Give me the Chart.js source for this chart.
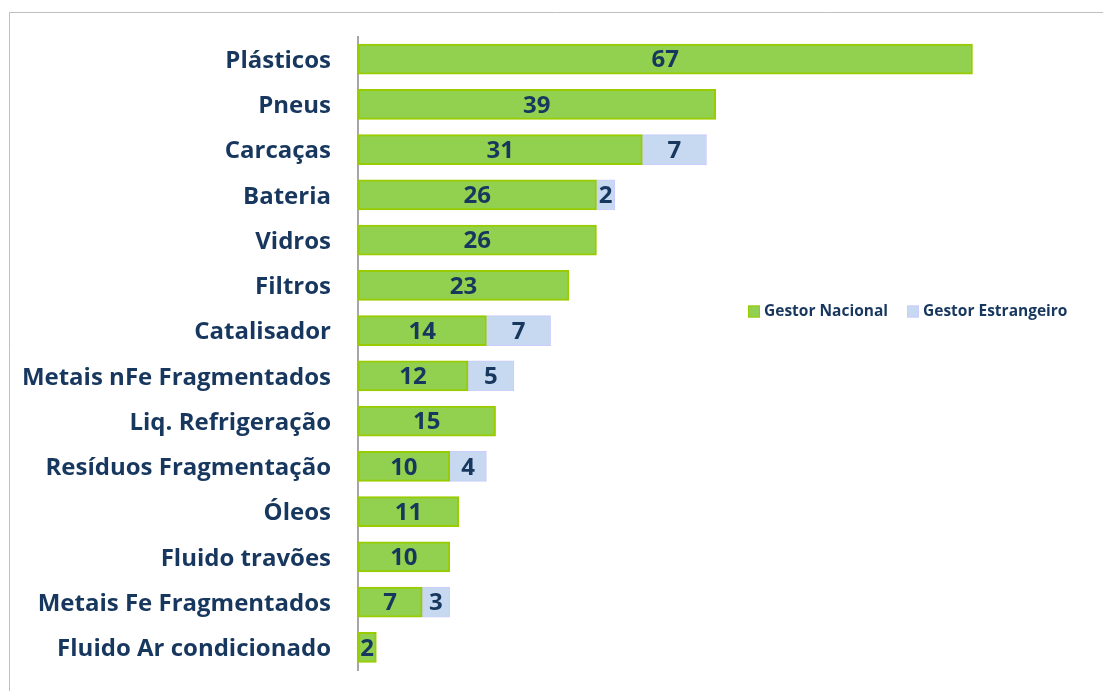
<!DOCTYPE html>
<html>
<head>
<meta charset="utf-8">
<script src="https://cdn.jsdelivr.net/npm/chart.js@4/dist/chart.umd.min.js"></script>
<style>
  html, body { margin: 0; padding: 0; background: #ffffff; }
  #wrap { width: 1103px; height: 691px; position: relative; }
</style>
</head>
<body>
<div id="wrap"><canvas id="c" width="1103" height="691"></canvas></div>
<script>
const categories = ['Plásticos', 'Pneus', 'Carcaças', 'Bateria', 'Vidros', 'Filtros', 'Catalisador',
  'Metais nFe Fragmentados', 'Liq. Refrigeração', 'Resíduos Fragmentação', 'Óleos',
  'Fluido travões', 'Metais Fe Fragmentados', 'Fluido Ar condicionado'];
const gestorNacional = [67, 39, 31, 26, 26, 23, 14, 12, 15, 10, 11, 10, 7, 2];
const gestorEstrangeiro = [null, null, 7, 2, null, null, 7, 5, null, 4, null, null, 3, null];
const seriesNames = ['Gestor Nacional', 'Gestor Estrangeiro'];
const xMin = 0, xMax = 70;

const TEXT = '#17375e';
const FONT = '"Open Sans", "DejaVu Sans", sans-serif';

const framePlugin = {
  id: 'frame',
  beforeDraw(chart) {
    const ctx = chart.ctx;
    ctx.save();
    ctx.fillStyle = '#ffffff';
    ctx.fillRect(0, 0, chart.width, chart.height);
    ctx.strokeStyle = '#bfbfbf';
    ctx.lineWidth = 1;
    ctx.beginPath();
    ctx.moveTo(9.5, chart.height);
    ctx.lineTo(9.5, 12.5);
    ctx.lineTo(chart.width, 12.5);
    ctx.stroke();
    ctx.restore();
  }
};

const valueLabels = {
  id: 'valueLabels',
  afterDatasetsDraw(chart) {
    const ctx = chart.ctx;
    ctx.save();
    ctx.font = 'bold 24px ' + FONT;
    ctx.fillStyle = TEXT;
    ctx.textAlign = 'center';
    ctx.textBaseline = 'middle';
    chart.data.datasets.forEach((ds, di) => {
      const meta = chart.getDatasetMeta(di);
      meta.data.forEach((el, i) => {
        const v = ds.data[i];
        if (v === null || v === undefined) return;
        const p = el.getProps(['x', 'y', 'base'], true);
        ctx.fillText(String(v), (p.x + p.base) / 2, p.y + 1.5);
      });
    });
    ctx.restore();
  }
};

const customLegend = {
  id: 'customLegend',
  afterDraw(chart) {
    const ctx = chart.ctx;
    ctx.save();
    ctx.font = 'bold 15.5px ' + FONT;
    ctx.textBaseline = 'middle';
    ctx.textAlign = 'left';
    const y = 311.5;
    const xs = [748, 907];
    chart.data.datasets.forEach((ds, i) => {
      const x = xs[i];
      ctx.fillStyle = ds.backgroundColor;
      ctx.fillRect(x, y - 6, 12, 12);
      ctx.strokeStyle = ds.borderColor;
      ctx.lineWidth = 1;
      ctx.strokeRect(x + 0.5, y - 5.5, 11, 11);
      ctx.fillStyle = TEXT;
      ctx.fillText(ds.label, x + 16, y);
    });
    ctx.restore();
  }
};

new Chart(document.getElementById('c'), {
  type: 'bar',
  data: {
    labels: categories,
    datasets: [
      {
        label: seriesNames[0],
        data: gestorNacional,
        backgroundColor: '#92d050',
        borderColor: '#99cc00',
        borderWidth: 2,
        borderSkipped: false,
        barThickness: 30
      },
      {
        label: seriesNames[1],
        data: gestorEstrangeiro,
        backgroundColor: '#c6d9f1',
        borderColor: '#ccccff',
        borderWidth: 1,
        borderSkipped: false,
        barThickness: 30
      }
    ]
  },
  options: {
    indexAxis: 'y',
    responsive: false,
    animation: false,
    layout: { padding: { top: 36.5, bottom: 21, left: 0, right: 103 } },
    plugins: {
      legend: { display: false },
      tooltip: { enabled: false }
    },
    scales: {
      x: {
        stacked: true,
        display: false,
        min: xMin,
        max: xMax
      },
      y: {
        stacked: true,
        afterFit(scale) {
          scale.width = 358;
          scale.paddingTop = 0;
          scale.paddingBottom = 0;
        },
        grid: { display: false, drawTicks: false },
        border: { display: true, color: '#a6a6a6', width: 2 },
        ticks: {
          color: TEXT,
          padding: 27,
          labelOffset: 2,
          font: { family: FONT, size: 24, weight: 'bold' }
        }
      }
    }
  },
  plugins: [framePlugin, valueLabels, customLegend]
});
</script>
</body>
</html>
